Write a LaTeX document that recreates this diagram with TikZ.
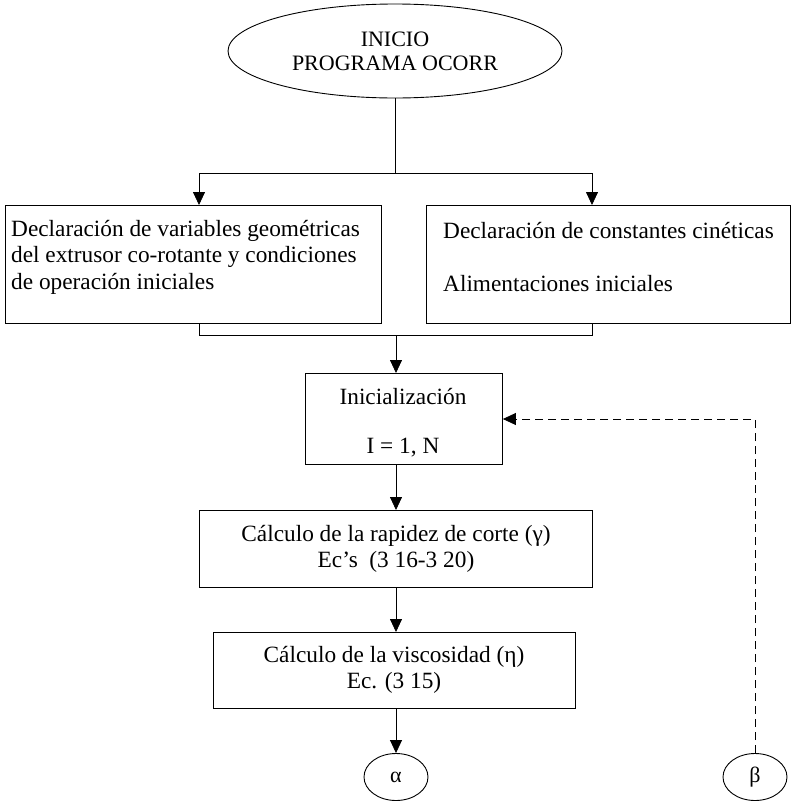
\documentclass[tikz,border=0pt]{standalone}
\usepackage{fontspec}
\setmainfont{Liberation Serif}
\usetikzlibrary{shapes.geometric,arrows.meta}
\begin{document}
\begin{tikzpicture}[x=1pt,y=-1pt,
  box/.style={draw,line width=0.9pt,rectangle,inner sep=0pt,anchor=north west},
  txt/.style={font=\fontsize{23.3}{27}\selectfont,inner sep=0pt},
  arr/.style={line width=0.8pt,-{Triangle[width=12pt,length=13pt]}},
  ln/.style={line width=0.8pt},
  conn/.style={draw,ellipse,line width=0.9pt,minimum width=64pt,minimum height=47pt,inner sep=0pt,font=\fontsize{22}{26}\selectfont}]
\useasboundingbox (0,0) rectangle (792,801);
% start
\node[draw,ellipse,line width=0.9pt,minimum width=334pt,minimum height=94pt,inner sep=0pt,align=center,font=\fontsize{22}{24}\selectfont] (start) at (395,51) {INICIO\\PROGRAMA OCORR};
% first boxes
\node[box,minimum width=376pt,minimum height=118pt] (b1) at (5,205) {};
\node[box,minimum width=364pt,minimum height=118pt] (b2) at (426,205) {};
\node[txt,anchor=west] (t1a) at (11,231) {Declaración de variables geométricas};
\node[txt,anchor=west] (t1b) at (11,257) {del extrusor co-rotante y condiciones};
\node[txt,anchor=west] (t1c) at (11,284) {de operación iniciales};
\node[txt,anchor=west] (t2a) at (443,231) {Declaración de constantes cinéticas};
\node[txt,anchor=west] (t2b) at (443,284) {Alimentaciones iniciales};
% init box
\node[box,minimum width=197pt,minimum height=91pt] (init) at (305,373) {};
\node[txt] (ti1) at (403,397) {Inicialización};
\node[txt] (ti2) at (403,448) {I = 1, N};
% rapidez
\node[box,minimum width=393pt,minimum height=77pt] (rap) at (199,510) {};
\node[txt] (tr1) at (396,536) {Cálculo de la rapidez de corte (γ)};
\node[txt] (tr2) at (396,562) {Ec’s\ \ (3 16-3 20)};
% viscosidad
\node[box,minimum width=362pt,minimum height=76pt] (visc) at (213,632) {};
\node[txt] (tv1) at (394,657) {Cálculo de la viscosidad (η)};
\node[txt] (tv2) at (394,683) {Ec. (3 15)};
% connectors
\node[conn] (alpha) at (396,777) {α};
\node[conn] (beta) at (755,777) {β};
% junctions
\coordinate (j1) at (395,173);
\coordinate (jl) at (199,173);
\coordinate (jr) at (592,173);
\coordinate (kl) at (199,335);
\coordinate (kr) at (592,335);
\coordinate (k1) at (396,335);
\coordinate (d1) at (755,419);
\draw[ln] (start) -- (j1);
\draw[ln] (jl) -- (jr);
\draw[arr] (jl) -- (jl |- b1.north);
\draw[arr] (jr) -- (jr |- b2.north);
\draw[ln] (kl |- b1.south) -- (kl) -- (kr) -- (kr |- b2.south);
\draw[arr] (k1) -- (k1 |- init.north);
\draw[arr] (k1 |- init.south) -- (k1 |- rap.north);
\draw[arr] (k1 |- rap.south) -- (k1 |- visc.north);
\draw[arr] (k1 |- visc.south) -- (alpha);
\draw[arr,dash pattern=on 8pt off 5pt] (beta) -- (d1) -- (init.east |- d1);
\end{tikzpicture}
\end{document}
